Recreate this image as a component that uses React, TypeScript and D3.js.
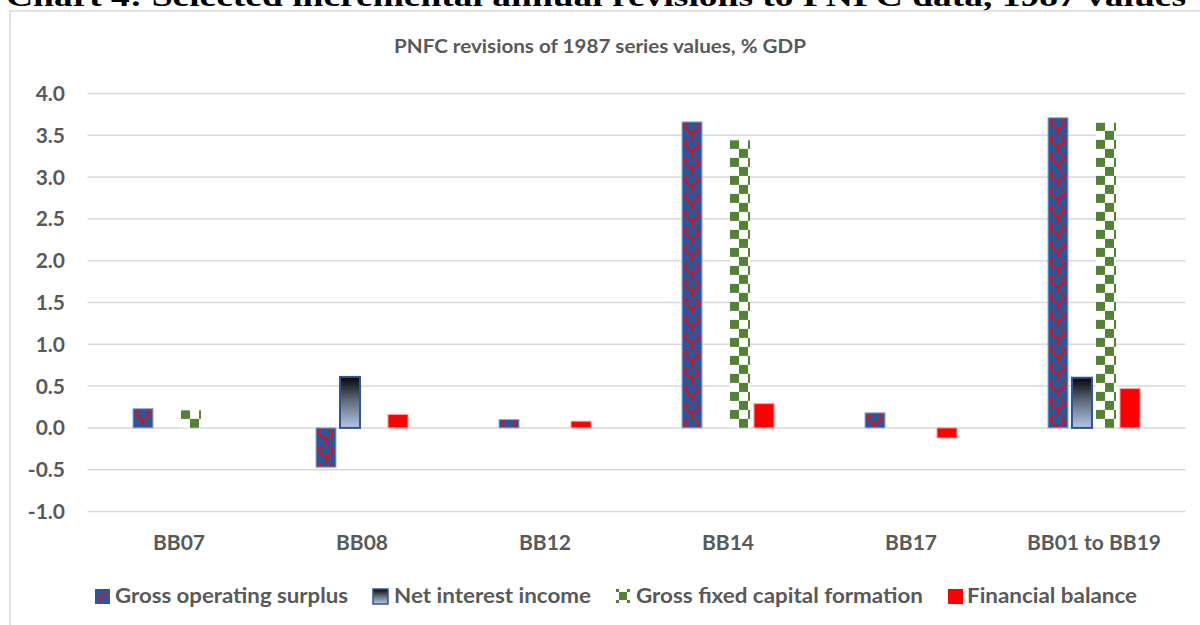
import React from "react";
import * as d3 from "d3";

const categories = ["BB07", "BB08", "BB12", "BB14", "BB17", "BB01 to BB19"];
const seriesNames = [
  "Gross operating surplus",
  "Net interest income",
  "Gross fixed capital formation",
  "Financial balance",
];
const grossOperatingSurplus = [0.23, -0.47, 0.1, 3.66, 0.18, 3.71];
const netInterestIncome = [0, 0.61, 0, 0, 0, 0.6];
const grossFixedCapital = [0.21, 0, 0, 3.44, 0, 3.65];
const financialBalance = [0, 0.16, 0.08, 0.29, -0.12, 0.47];
const yTicks = [-1, -0.5, 0, 0.5, 1, 1.5, 2, 2.5, 3, 3.5, 4];

const heading = "Chart 4: Selected incremental annual revisions to PNFC data, 1987 values";
const chartTitle = "PNFC revisions of 1987 series values, % GDP";

const W = 1200;
const H = 625;
const font = "Lato, 'Open Sans', sans-serif";
const grey = "#595959";

export default function App() {
  const values = [grossOperatingSurplus, netInterestIncome, grossFixedCapital, financialBalance];

  const x0 = d3.scaleBand().domain(categories).range([87.5, 1185.5]);
  const x1 = d3.scaleBand().domain(seriesNames).range([-46, 46]).paddingInner(1 / 6);
  const y = d3.scaleLinear().domain([-1, 4]).range([511.5, 93.5]);
  const fmt = (t) => d3.format(".1f")(t).replace("\u2212", "-");

  const bars = [];
  categories.forEach((c, ci) => {
    seriesNames.forEach((s, si) => {
      const v = values[si][ci];
      if (v === 0) return;
      const cx = x0(c) + x0.bandwidth() / 2;
      const bx = cx + x1(s);
      bars.push({ id: `b${ci}_${si}`, si, x: bx, y: y(Math.max(0, v)), h: Math.abs(y(v) - y(0)), w: x1.bandwidth() });
    });
  });

  // legend positions
  const legend = [
    { sx: 95, tx: 115, len: 233 },
    { sx: 373, tx: 394, len: 197 },
    { sx: 616, tx: 636, len: 287 },
    { sx: 948, tx: 967, len: 170 },
  ];

  const fillFor = (b) => {
    if (b.si === 0) return `url(#gos_${b.id})`;
    if (b.si === 1) return "url(#niiGrad)";
    if (b.si === 2) return `url(#chk_${b.id})`;
    return "#FF0000";
  };

  return (
    <svg width={W} height={H} style={{ position: "absolute", left: 0, top: 0, background: "#fff" }}>
      <defs>
        <linearGradient id="niiGrad" x1="0" y1="0" x2="0" y2="1">
          <stop offset="0" stopColor="#050505" />
          <stop offset="0.45" stopColor="#5d6778" />
          <stop offset="1" stopColor="#b4c7e7" />
        </linearGradient>
        {bars.filter((b) => b.si === 0).map((b) => (
          <pattern key={b.id} id={`gos_${b.id}`} patternUnits="userSpaceOnUse" x={b.x} y={b.y} width={b.w} height={17.5}>
            <rect width={b.w} height={17.5} fill="#2F5597" />
            <path d="M2,3 L4,7 L7,10 L10,12 L13,10 L16,7 L18,4 M10,12 L10,17.5 M4,1 L6,4 M16,1 L14,4" stroke="#FF0000" strokeWidth={1.6} fill="none" />
          </pattern>
        ))}
        {bars.filter((b) => b.si === 2).map((b) => (
          <pattern key={b.id} id={`chk_${b.id}`} patternUnits="userSpaceOnUse" x={b.x} y={b.y + b.h} width={18} height={18}>
            <rect width={18} height={18} fill="#fff" />
            <rect x={0} y={0} width={9} height={9} fill="#548235" />
            <rect x={9} y={9} width={9} height={9} fill="#548235" />
          </pattern>
        ))}
        <pattern id="gosLegend" patternUnits="userSpaceOnUse" x={95} y={589} width={15} height={15}>
          <rect width={15} height={15} fill="#2F5597" />
          <path d="M4,12 L7,7 L10,4 L12,5" stroke="#FF0000" strokeWidth={1.4} fill="none" />
        </pattern>
        <pattern id="chkLegend" patternUnits="userSpaceOnUse" x={616} y={589} width={14} height={14}>
          <rect width={14} height={14} fill="#fff" />
          <rect x={0} y={0} width={3} height={3} fill="#548235" />
          <rect x={11} y={0} width={3} height={3} fill="#548235" />
          <rect x={0} y={11} width={3} height={3} fill="#548235" />
          <rect x={11} y={11} width={3} height={3} fill="#548235" />
          <rect x={3} y={3} width={8} height={8} fill="#548235" />
        </pattern>
      </defs>

      <text x={6} y={6} fontFamily="'Liberation Serif', 'Times New Roman', serif" fontWeight="bold" fontSize={30} textLength={1180} lengthAdjust="spacingAndGlyphs" fill="#000">
        {heading}
      </text>

      <rect x={10} y={11} width={1200} height={700} fill="none" stroke="#d9d9d9" strokeWidth={1.5} />

      <text x={600} y={53} textAnchor="middle" fontFamily={font} fontWeight="bold" fontSize={19} textLength={412} lengthAdjust="spacingAndGlyphs" fill={grey}>
        {chartTitle}
      </text>

      {yTicks.map((t) => (
        <g key={t}>
          <line x1={87.5} x2={1185.5} y1={y(t)} y2={y(t)} stroke="#d9d9d9" strokeWidth={1.5} />
          <text x={65} y={y(t)} dy="0.36em" textAnchor="end" fontFamily={font} fontWeight="bold" fontSize={21} fill={grey}>
            {fmt(t)}
          </text>
        </g>
      ))}

      {bars.map((b) => (
        <rect
          key={b.id}
          x={b.x}
          y={b.y}
          width={b.w}
          height={b.h}
          fill={fillFor(b)}
          stroke={b.si === 0 ? "#8faadc" : b.si === 1 ? "#2F5597" : b.si === 3 ? "#ff9a9a" : "none"}
          strokeWidth={b.si === 1 ? 2 : 1}
        />
      ))}

      {categories.map((c) => (
        <text key={c} x={x0(c) + x0.bandwidth() / 2} y={550} textAnchor="middle" fontFamily={font} fontWeight="bold" fontSize={21} fill={grey}>
          {c}
        </text>
      ))}

      {seriesNames.map((s, i) => (
        <g key={s}>
          <rect
            x={legend[i].sx}
            y={589}
            width={i === 2 ? 14 : 15}
            height={i === 2 ? 14 : 15}
            fill={i === 0 ? "url(#gosLegend)" : i === 1 ? "url(#niiGrad)" : i === 2 ? "url(#chkLegend)" : "#FF0000"}
            stroke={i === 1 ? "#2F5597" : "none"}
            strokeWidth={1.5}
          />
          <text x={legend[i].tx} y={603} fontFamily={font} fontWeight="bold" fontSize={21} textLength={legend[i].len} lengthAdjust="spacingAndGlyphs" fill={grey}>
            {s}
          </text>
        </g>
      ))}
    </svg>
  );
}
